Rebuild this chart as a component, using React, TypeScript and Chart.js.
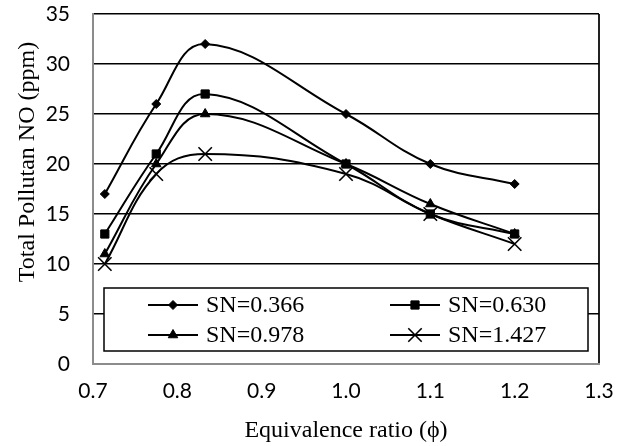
import React, { useEffect, useRef } from 'react';
import { Chart, registerables } from 'chart.js';
import { drawPoint } from 'chart.js/helpers';

Chart.register(...registerables);

const equivalenceRatio = [0.714, 0.775, 0.833, 1.0, 1.1, 1.2];
const sn0366 = [17, 26, 32, 25, 20, 18];
const sn0630 = [13, 21, 27, 20, 15, 13];
const sn0978 = [11, 20, 25, 20, 16, 13];
const sn1427 = [10, 19, 21, 19, 15, 12];
const seriesLabels = ['SN=0.366', 'SN=0.630', 'SN=0.978', 'SN=1.427'];
const seriesValues = [sn0366, sn0630, sn0978, sn1427];
const pointStyles = ['rectRot', 'rect', 'triangle', 'crossRot'];
const pointRadii = [4.5, 5.8, 5.5, 9.5];
const xTitle = 'Equivalence ratio (\u03D5)';
const yTitle = 'Total Pollutan NO (ppm)';

const SERIF = '"Liberation Serif", "Times New Roman", serif';
const SANS = 'Lato, "Liberation Sans", sans-serif';

const AREA = { left: 93, top: 14, right: 599, bottom: 364 };

const insideLegend = {
  id: 'insideLegend',
  afterDatasetsDraw(chart: any) {
    const { ctx, chartArea: ca } = chart;
    const left = ca.left + 11;
    const right = ca.right - 11;
    const top = ca.top + 274;
    const bottom = ca.top + 337;
    ctx.save();
    ctx.fillStyle = '#ffffff';
    ctx.fillRect(left, top, right - left, bottom - top);
    ctx.strokeStyle = '#000000';
    ctx.lineWidth = 1.5;
    ctx.strokeRect(left, top, right - left, bottom - top);
    const colX = [left + 44, left + 286];
    const rowY = [top + 17, top + 47];
    chart.data.datasets.forEach((ds: any, i: number) => {
      const cx = colX[i % 2];
      const cy = rowY[Math.floor(i / 2)];
      ctx.strokeStyle = '#000';
      ctx.lineWidth = 2;
      ctx.beginPath();
      ctx.moveTo(cx, cy);
      ctx.lineTo(cx + 50, cy);
      ctx.stroke();
      ctx.fillStyle = '#000';
      ctx.strokeStyle = '#000';
      ctx.lineWidth = ds.pointBorderWidth;
      drawPoint(ctx, { pointStyle: ds.pointStyle, radius: ds.pointRadius, rotation: 0, borderWidth: ds.pointBorderWidth }, cx + 25, cy);
      ctx.fillStyle = '#000';
      ctx.font = `24px ${SERIF}`;
      ctx.textAlign = 'left';
      ctx.textBaseline = 'middle';
      ctx.fillText(ds.label, cx + 58, cy + 1);
    });
    ctx.restore();
  },
  afterDraw(chart: any) {
    const { ctx } = chart;
    ctx.save();
    ctx.translate(28, 162);
    ctx.rotate(-Math.PI / 2);
    ctx.fillStyle = '#000';
    ctx.font = `24px ${SERIF}`;
    ctx.textAlign = 'center';
    ctx.textBaseline = 'middle';
    ctx.fillText(yTitle, 0, 0);
    ctx.restore();
  },
};

export default function App() {
  const canvasRef = useRef<HTMLCanvasElement | null>(null);

  useEffect(() => {
    if (!canvasRef.current) return;
    const datasets = seriesLabels.map((label, i) => ({
      label,
      data: equivalenceRatio.map((x, j) => ({ x, y: seriesValues[i][j] })),
      borderColor: '#000',
      backgroundColor: '#000',
      borderWidth: 2,
      tension: 0.4,
      pointStyle: pointStyles[i],
      pointRadius: pointRadii[i],
      pointBackgroundColor: '#000',
      pointBorderColor: '#000',
      pointBorderWidth: pointStyles[i] === 'crossRot' ? 1.6 : 1,
      fill: false,
    }));
    const chart = new Chart(canvasRef.current, {
      type: 'line',
      data: { datasets },
      plugins: [insideLegend],
      options: {
        responsive: false,
        animation: false,
        devicePixelRatio: 1,
        layout: {
          autoPadding: false,
          padding: { top: AREA.top, right: 625 - AREA.right, left: 0, bottom: 0 },
        },
        plugins: { legend: { display: false }, tooltip: { enabled: false } },
        scales: {
          x: {
            type: 'linear',
            min: 0.7,
            max: 1.3,
            afterFit: (s: any) => {
              s.height = 446 - AREA.bottom;
              s.paddingLeft = 0;
              s.paddingRight = 0;
              s.paddingTop = 0;
              s.paddingBottom = 0;
            },
            ticks: {
              stepSize: 0.1,
              padding: 15,
              autoSkip: false,
              maxRotation: 0,
              color: '#000',
              font: { family: SANS, size: 21 },
              callback: (v: any) => Number(v).toFixed(1),
            },
            grid: {
              drawTicks: false,
              color: (c: any) => (c.index === 6 ? '#222' : 'rgba(0,0,0,0)'),
              lineWidth: 2,
            },
            border: { display: true, color: '#8c8c8c', width: 2 },
            title: {
              display: true,
              text: xTitle,
              color: '#000',
              font: { family: SERIF, size: 24 },
              padding: { top: 0, bottom: 1 },
            },
          },
          y: {
            type: 'linear',
            min: 0,
            max: 35,
            afterFit: (s: any) => {
              s.width = AREA.left;
              s.paddingTop = 0;
              s.paddingBottom = 0;
              s.paddingLeft = 0;
              s.paddingRight = 0;
            },
            ticks: {
              stepSize: 5,
              padding: 23,
              color: '#000',
              font: { family: SANS, size: 21 },
            },
            grid: {
              drawTicks: false,
              color: (c: any) => (c.tick && c.tick.value === 0 ? '#8c8c8c' : '#000'),
              lineWidth: 1.6,
            },
            border: { display: true, color: '#8c8c8c', width: 2 },
          },
        },
      } as any,
    });
    return () => chart.destroy();
  }, []);

  return (
    <div style={{ position: 'absolute', left: 0, top: 0, width: 625, height: 446, background: '#fff' }}>
      <canvas ref={canvasRef} width={625} height={446} style={{ display: 'block' }} />
    </div>
  );
}
